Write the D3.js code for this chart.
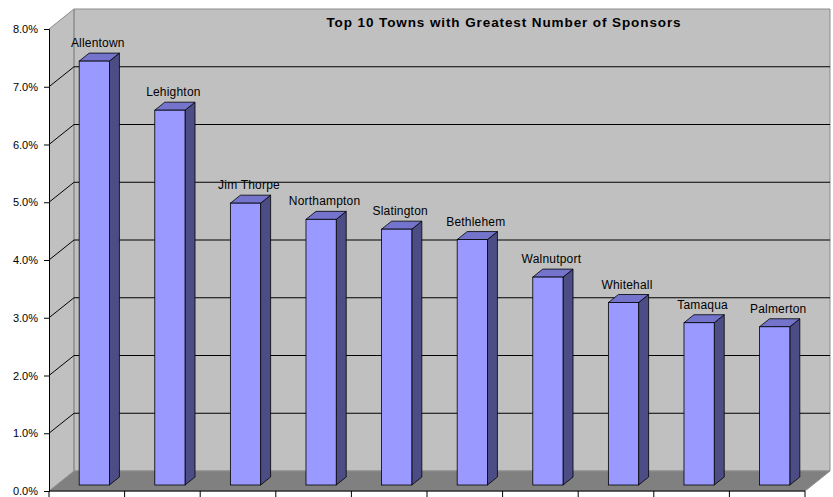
<!DOCTYPE html>
<html>
<head>
<meta charset="utf-8">
<script src="https://cdn.jsdelivr.net/npm/d3@7/dist/d3.min.js"></script>
<style>
  body { margin: 0; background: #fff; }
  text { font-family: "Liberation Sans", Arial, sans-serif; fill: #000; }
</style>
</head>
<body>
<div id="chart"></div>
<script>
const towns = ["Allentown", "Lehighton", "Jim Thorpe", "Northampton", "Slatington",
               "Bethlehem", "Walnutport", "Whitehall", "Tamaqua", "Palmerton"];
const shares = [7.34, 6.49, 4.88, 4.60, 4.43, 4.25, 3.60, 3.16, 2.81, 2.74];
const yTicks = [0, 1, 2, 3, 4, 5, 6, 7, 8];
const chartTitle = "Top 10 Towns with Greatest Number of Sponsors";

const size = { width: 833, height: 497 };
const plot = { left: 49, right: 805, top: 29, bottom: 491 };
const depth = { dx: 25, dy: -20 };
const bar = { widthRatio: 0.4, front: 0.3, back: 0.7 };
const colors = { wall: "#c0c0c0", floor: "#808080", edge: "#8c8c8c",
                 front: "#9999ff", side: "#4d4d85", top: "#7474cc" };

const svg = d3.select("#chart").append("svg")
    .attr("width", size.width)
    .attr("height", size.height);

const x = d3.scaleBand().domain(towns).range([plot.left, plot.right]);
const y = d3.scaleLinear().domain([0, 8]).range([plot.bottom, plot.top]);

// shift a point back into the depth of the chart, f = 0 front, 1 back
const px = (xv, f) => xv + depth.dx * f;
const py = (yv, f) => yv + depth.dy * f;
const poly = pts => pts.map(p => p.join(",")).join(" ");

// walls
svg.append("polygon")
    .attr("points", poly([[px(plot.left, 0), y(8)], [px(plot.left, 1), py(y(8), 1)],
                          [px(plot.left, 1), py(y(0), 1)], [px(plot.left, 0), y(0)]]))
    .attr("fill", colors.wall);
svg.append("polygon")
    .attr("points", poly([[px(plot.left, 1), py(y(8), 1)], [px(plot.right, 1), py(y(8), 1)],
                          [px(plot.right, 1), py(y(0), 1)], [px(plot.left, 1), py(y(0), 1)]]))
    .attr("fill", colors.wall)
    .attr("stroke", colors.edge);
svg.append("polyline")
    .attr("points", poly([[px(plot.left, 0), y(8)], [px(plot.left, 1), py(y(8), 1)],
                          [px(plot.left, 1), py(y(0), 1)]]))
    .attr("fill", "none")
    .attr("stroke", colors.edge);

// floor
svg.append("polygon")
    .attr("points", poly([[px(plot.left, 0), y(0)], [px(plot.right, 0), y(0)],
                          [px(plot.right, 1), py(y(0), 1)], [px(plot.left, 1), py(y(0), 1)]]))
    .attr("fill", colors.floor)
    .attr("stroke", colors.edge);

// gridlines on side and back walls
const grid = yTicks.filter(v => v > 0 && v < 8);
svg.selectAll(".grid")
    .data(grid)
    .enter()
    .append("polyline")
    .attr("class", "grid")
    .attr("points", v => poly([[px(plot.left, 0), y(v)], [px(plot.left, 1), py(y(v), 1)],
                               [px(plot.right, 1), py(y(v), 1)]]))
    .attr("fill", "none")
    .attr("stroke", "#000")
    .attr("stroke-width", 1);

// bars
const barW = x.bandwidth() * bar.widthRatio;
const bars = svg.selectAll(".bar")
    .data(towns.map((t, i) => ({ town: t, value: shares[i] })))
    .enter()
    .append("g")
    .attr("class", "bar");

bars.each(function(d) {
    const g = d3.select(this);
    const x0 = px(x(d.town) + (x.bandwidth() - barW) / 2, bar.front);
    const x1 = x0 + barW;
    const yb = py(y(0), bar.front);
    const yt = py(y(d.value), bar.front);
    const ddx = depth.dx * (bar.back - bar.front);
    const ddy = depth.dy * (bar.back - bar.front);

    g.append("polygon")
        .attr("points", poly([[x1, yt], [x1 + ddx, yt + ddy], [x1 + ddx, yb + ddy], [x1, yb]]))
        .attr("fill", colors.side)
        .attr("stroke", "#000")
        .attr("stroke-width", 0.8)
        .attr("stroke-linejoin", "round");
    g.append("polygon")
        .attr("points", poly([[x0, yt], [x0 + ddx, yt + ddy], [x1 + ddx, yt + ddy], [x1, yt]]))
        .attr("fill", colors.top)
        .attr("stroke", "#000")
        .attr("stroke-width", 0.8)
        .attr("stroke-linejoin", "round");
    g.append("rect")
        .attr("x", x0)
        .attr("y", yt)
        .attr("width", barW)
        .attr("height", yb - yt)
        .attr("fill", colors.front)
        .attr("stroke", "#000")
        .attr("stroke-width", 0.8);

    g.append("text")
        .attr("x", x0 + barW / 2 + 3.5)
        .attr("y", yt + ddy - 6)
        .attr("text-anchor", "middle")
        .attr("font-size", "12px")
        .attr("letter-spacing", "0.2px")
        .text(d.town);
});

// value axis
const yAxis = svg.append("g")
    .attr("transform", `translate(${plot.left},0)`)
    .call(d3.axisLeft(y).tickValues(yTicks).tickSize(5).tickPadding(6)
        .tickFormat(v => d3.format(".1f")(v) + "%"));
yAxis.select(".domain").attr("stroke", "#000");
yAxis.selectAll("text")
    .attr("font-size", "11px")
    .attr("font-family", "'Liberation Sans', Arial, sans-serif");

// category axis: ticks at category boundaries, no labels
const bounds = towns.map(t => x(t)).concat([plot.right]);
svg.append("line")
    .attr("x1", plot.left).attr("x2", plot.right)
    .attr("y1", y(0)).attr("y2", y(0))
    .attr("stroke", "#000");
svg.selectAll(".xtick")
    .data(bounds)
    .enter()
    .append("line")
    .attr("class", "xtick")
    .attr("x1", d => d).attr("x2", d => d)
    .attr("y1", y(0)).attr("y2", y(0) + 6)
    .attr("stroke", "#000");

// title
svg.append("text")
    .attr("x", 504)
    .attr("y", 27)
    .attr("text-anchor", "middle")
    .attr("font-size", "13.5px")
    .attr("font-weight", "bold")
    .attr("letter-spacing", "0.9px")
    .text(chartTitle);
</script>
</body>
</html>
